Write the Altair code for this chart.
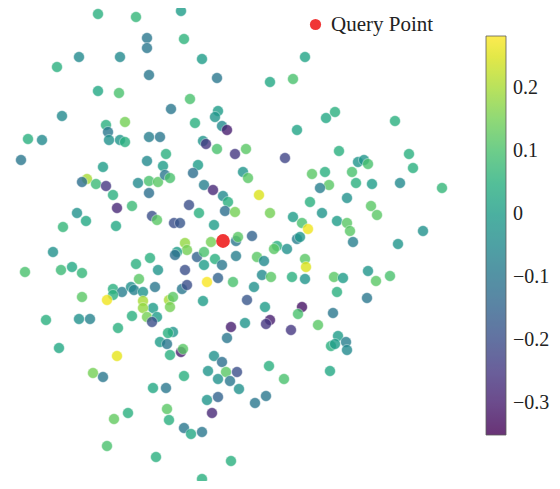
import altair as alt
import pandas as pd

# embedding coordinates and score values
xs = [98,136,181,184,147,147,79,120,57,149,202,305,217,270,293,98,119,190,171,62,
      125,106,108,109,120,125,28,42,149,160,21,147,103,195,218,215,222,227,203,206,
      217,235,246,285,297,166,198,163,335,326,395,339,409,358,364,368,
      87,82,96,106,113,138,149,158,149,132,117,152,157,77,86,63,116,53,25,61,
      72,82,136,150,158,139,113,122,131,134,143,155,113,82,107,143,153,143,132,147,
      157,46,79,90,152,
      165,170,193,204,213,223,228,225,235,243,248,259,270,189,199,174,180,214,185,187,
      211,236,238,252,293,302,297,300,277,274,287,177,175,197,204,215,204,222,236,257,
      264,305,306,185,207,218,233,262,271,292,305,254,182,187,169,173,170,203,247,265,
      302,298,270,245,
      413,312,325,352,329,320,356,372,400,442,347,310,371,377,322,337,347,350,308,353,
      423,398,368,376,390,334,343,337,367,333,318,
      118,59,117,93,103,153,128,114,107,156,160,
      173,168,167,170,181,183,231,266,291,227,214,222,226,237,208,218,230,239,184,269,
      284,166,218,207,266,255,212,167,169,184,191,202,231,202,
      338,346,331,335,347,330]
ys = [14,17,11,39,38,48,57,57,67,75,59,57,78,82,79,91,93,99,109,116,
      122,125,132,140,140,142,139,140,137,137,160,161,167,123,111,117,126,130,141,144,
      149,154,149,158,130,154,165,166,112,118,121,151,154,162,160,164,
      179,182,184,186,195,183,181,182,193,206,208,216,220,213,221,227,226,252,272,270,
      267,273,264,258,270,279,289,292,287,290,292,287,295,297,300,301,308,308,316,317,
      317,320,319,319,322,
      175,178,173,185,190,196,202,211,212,172,178,195,213,205,213,223,223,225,243,250,
      242,241,237,236,217,223,239,237,246,249,249,252,255,257,252,259,265,265,256,257,
      261,259,267,270,282,278,282,275,277,277,279,287,289,285,300,297,307,301,300,307,
      307,314,320,323,
      168,174,172,172,185,188,183,184,183,188,198,202,206,215,213,221,223,231,229,242,
      231,244,271,281,276,277,278,292,298,313,325,
      328,348,356,373,377,388,413,419,446,457,342,
      332,333,344,355,352,349,327,324,330,338,356,362,372,372,371,379,381,389,376,366,
      379,388,397,400,396,403,413,409,420,428,434,432,461,479,
      336,342,346,344,350,371]
vals = [0.05,0.07,0.0,0.06,-0.1,-0.1,-0.05,-0.05,0.05,-0.1,0.0,0.02,-0.1,0.03,0.1,0.03,0.1,0.1,-0.1,-0.05,
        0.15,0.05,-0.1,-0.03,-0.02,0.05,0.05,-0.05,-0.08,-0.1,-0.1,-0.05,0.0,0.05,0.0,-0.02,-0.05,-0.3,-0.02,-0.25,
        0.1,-0.25,0.12,-0.22,0.02,0.05,0.0,0.0,0.05,0.03,0.05,0.05,0.05,-0.02,-0.02,0.1,
        0.2,-0.12,0.08,-0.25,0.05,-0.05,0.1,0.12,-0.12,0.08,-0.28,-0.2,0.12,-0.03,0.03,0.07,0.03,-0.03,0.1,0.08,
        0.03,0.07,0.05,0.05,-0.02,0.12,0.05,-0.08,-0.03,-0.07,-0.02,-0.1,0.05,0.12,0.27,0.2,0.0,0.18,0.05,0.15,
        0.0,0.05,-0.03,-0.07,-0.2,
        -0.1,0.1,-0.12,-0.08,-0.28,-0.05,0.05,-0.12,0.15,-0.02,0.12,0.25,0.15,-0.2,0.05,-0.2,-0.18,0.0,0.18,0.15,
        0.15,-0.1,0.12,-0.15,0.0,0.1,-0.08,-0.02,0.05,0.12,-0.03,0.0,-0.12,-0.15,0.1,0.05,0.0,-0.1,-0.08,0.12,
        -0.05,0.12,0.25,-0.2,0.28,-0.15,0.1,-0.05,0.12,0.05,-0.02,-0.03,-0.1,-0.2,0.2,0.12,0.15,0.0,-0.18,0.0,
        -0.32,0.1,-0.3,-0.02,
        0.05,0.12,0.05,0.1,0.12,-0.08,0.05,0.0,-0.05,0.07,-0.03,0.05,0.12,0.12,-0.02,0.0,0.12,0.12,0.27,-0.08,
        -0.03,-0.02,-0.02,0.12,0.1,0.12,0.0,0.05,-0.1,-0.1,0.12,
        0.05,0.03,0.26,0.15,-0.1,0.03,0.05,0.13,0.1,0.05,0.0,
        -0.02,0.05,-0.1,0.05,-0.3,0.12,-0.3,-0.25,-0.25,-0.1,-0.03,-0.12,0.12,-0.2,-0.02,-0.03,-0.1,-0.03,0.05,0.05,
        0.1,-0.1,-0.15,-0.02,-0.1,-0.1,-0.28,0.12,0.05,-0.1,0.03,-0.1,0.05,0.05,
        0.0,-0.08,0.05,0.0,-0.05,0.03]

query_x = [223]
query_y = [241]
query_label = ["Query Point"]

color_domain = [-0.351, 0.283]
tick_values = [-0.3, -0.2, -0.1, 0.0, 0.1, 0.2]

df = pd.DataFrame({"x": xs, "y": ys, "v": vals})
dq = pd.DataFrame({"x": query_x, "y": query_y, "label": query_label})

W, H = 544, 473
xsc = alt.Scale(domain=[8, 8 + W], nice=False, zero=False)
ysc = alt.Scale(domain=[8, 8 + H], nice=False, zero=False, reverse=True)

FONT = "Liberation Serif"

pts = alt.Chart(df).mark_circle(size=120, opacity=0.8, stroke="white", strokeWidth=0.5).encode(
    x=alt.X("x:Q", scale=xsc, axis=None),
    y=alt.Y("y:Q", scale=ysc, axis=None),
    color=alt.Color(
        "v:Q",
        scale=alt.Scale(scheme="viridis", domain=color_domain, nice=False, zero=False),
        legend=alt.Legend(
            title=None, orient="none", legendX=478, legendY=28, direction="vertical",
            gradientLength=399, gradientThickness=20, gradientOpacity=0.8,
            gradientStrokeColor="#333333", gradientStrokeWidth=0.8,
            values=tick_values, format="~g", labelFont=FONT, labelFontSize=20,
            labelColor="#222222", labelOffset=7, padding=0,
        ),
    ),
)

q = alt.Chart(dq).mark_circle(size=190, opacity=0.9).encode(
    x=alt.X("x:Q", scale=xsc, axis=None),
    y=alt.Y("y:Q", scale=ysc, axis=None),
    fill=alt.Fill(
        "label:N",
        scale=alt.Scale(domain=query_label, range=["#ee2020"]),
        legend=alt.Legend(
            title=None, orient="none", legendX=297, legendY=6, symbolType="circle",
            symbolSize=125, symbolOpacity=0.9, symbolStrokeWidth=0, labelFont=FONT,
            labelFontSize=21, labelColor="#222222", labelOffset=5, padding=0,
        ),
    ),
)

chart = alt.layer(pts, q).properties(
    width=W, height=H, padding=0, autosize=alt.AutoSizeParams(type="none")
).configure_view(stroke=None)

chart.save("out.html", embed_options={"renderer": "svg", "actions": False})
